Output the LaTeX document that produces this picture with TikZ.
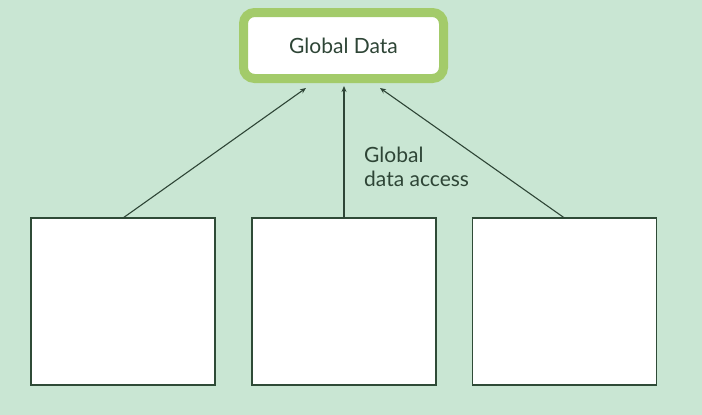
\documentclass[tikz,border=0pt]{standalone}
\usepackage{fontspec}
\setmainfont{Lato}
\usetikzlibrary{calc,arrows.meta}
\definecolor{bgmain}{HTML}{C9E6D3}
\definecolor{leaf}{HTML}{A3CB6A}
\definecolor{ink}{HTML}{2E4536}
\definecolor{edge}{HTML}{2F4B37}
\tikzset{
  module/.style={draw=edge, line width=1.4pt, fill=white, minimum width=184pt, minimum height=167pt, inner sep=0pt, outer sep=0pt},
  store/.style={draw=leaf, line width=9pt, fill=white, rounded corners=11pt, minimum width=200pt, minimum height=66pt, text=ink, font=\fontsize{21}{24}\selectfont},
  access/.style={draw=ink, line width=1.1pt, -{Stealth[length=6pt,width=5pt]}},
  note/.style={text=ink, font=\fontsize{21}{24}\selectfont, align=left, inner sep=0pt}
}
\begin{document}
\begin{tikzpicture}[x=1pt,y=-1pt]
  % backdrop
  \fill[bgmain] (0,0) rectangle (702,415);
  \useasboundingbox (0,0) rectangle (702,415);

  % shared data store
  \node[store] (data) at (343.5,45.5) {Global Data};

  % the three modules
  \node[module] (m1) at (123,301.5) {};
  \node[module] (m2) at (344,301.5) {};
  \node[module] (m3) at (564.5,301.5) {};

  % accesses to the shared data
  \coordinate (t1) at ($(data.south)+(-37.5,5)$);
  \coordinate (t2) at ($(data.south)+(0.5,3)$);
  \coordinate (t3) at ($(data.south)+(36.5,5)$);
  \draw[access] (m1.north) -- (t1);
  \draw[access] (m2.north) -- (t2);
  \draw[access] (m3.north) -- (t3);

  \node[note, anchor=base west] (lbl) at (364,186) {Global\\data access};
\end{tikzpicture}
\end{document}
